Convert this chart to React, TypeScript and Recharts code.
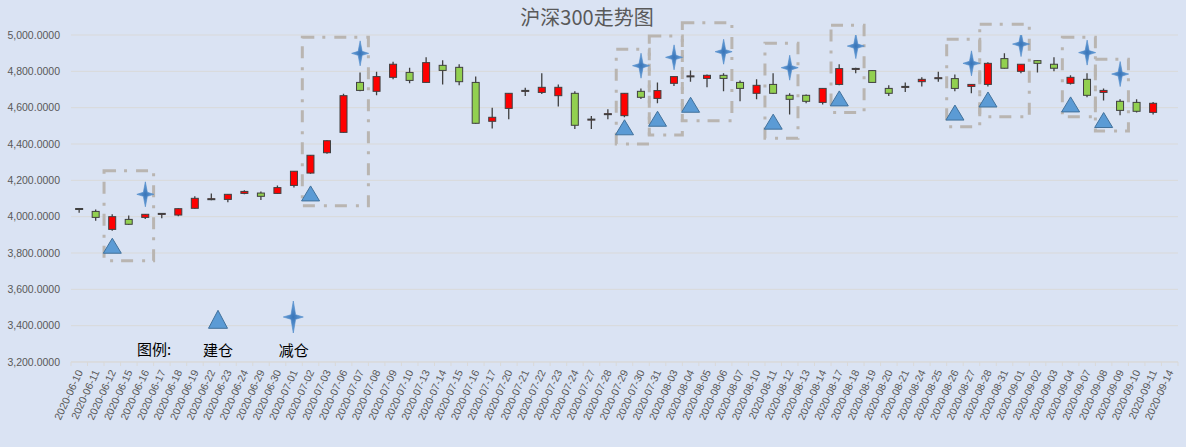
import { ComposedChart, Bar, Scatter, XAxis, YAxis, CartesianGrid, ReferenceArea } from "recharts";

// 沪深300 daily candles, 2020-06-10 .. 2020-09-14 (09-14 has no candle in the source)
const dates = [
  "2020-06-10", "2020-06-11", "2020-06-12", "2020-06-15", "2020-06-16", "2020-06-17", "2020-06-18",
  "2020-06-19", "2020-06-22", "2020-06-23", "2020-06-24", "2020-06-29", "2020-06-30", "2020-07-01",
  "2020-07-02", "2020-07-03", "2020-07-06", "2020-07-07", "2020-07-08", "2020-07-09", "2020-07-10",
  "2020-07-13", "2020-07-14", "2020-07-15", "2020-07-16", "2020-07-17", "2020-07-20", "2020-07-21",
  "2020-07-22", "2020-07-23", "2020-07-24", "2020-07-27", "2020-07-28", "2020-07-29", "2020-07-30",
  "2020-07-31", "2020-08-03", "2020-08-04", "2020-08-05", "2020-08-06", "2020-08-07", "2020-08-10",
  "2020-08-11", "2020-08-12", "2020-08-13", "2020-08-14", "2020-08-17", "2020-08-18", "2020-08-19",
  "2020-08-20", "2020-08-21", "2020-08-24", "2020-08-25", "2020-08-26", "2020-08-27", "2020-08-28",
  "2020-08-31", "2020-09-01", "2020-09-02", "2020-09-03", "2020-09-04", "2020-09-07", "2020-09-08",
  "2020-09-09", "2020-09-10", "2020-09-11", "2020-09-14",
];

const openValues = [
  4045, 4029, 3930, 3985, 3996, 4016, 4009, 4046, 4095, 4095, 4128, 4130, 4128, 4172,
  4240, 4352, 4464, 4739, 4690, 4767, 4794, 4739, 4833, 4822, 4739, 4525, 4596, 4692,
  4684, 4666, 4679, 4534, 4563, 4556, 4690, 4651, 4734, 4772, 4761, 4778, 4739, 4679,
  4728, 4668, 4668, 4629, 4728, 4813, 4804, 4706, 4714, 4743, 4762, 4760, 4717, 4728,
  4870, 4800, 4859, 4839, 4734, 4756, 4684, 4635, 4629, 4574, null,
];
const highValues = [
  4047, 4040, 4013, 4007, 4014, 4020, 4046, 4112, 4128, 4125, 4145, 4139, 4172, 4252,
  4340, 4420, 4677, 4794, 4798, 4853, 4820, 4877, 4861, 4839, 4771, 4600, 4680, 4710,
  4789, 4727, 4690, 4554, 4591, 4681, 4706, 4739, 4772, 4804, 4783, 4789, 4749, 4756,
  4789, 4679, 4672, 4707, 4839, 4820, 4806, 4723, 4739, 4767, 4798, 4783, 4729, 4850,
  4899, 4840, 4861, 4877, 4778, 4789, 4706, 4646, 4646, 4631, null,
];
const lowValues = [
  4022, 3978, 3923, 3956, 3987, 3991, 4002, 4044, 4090, 4079, 4123, 4092, 4126, 4161,
  4236, 4347, 4462, 4690, 4668, 4756, 4734, 4737, 4728, 4723, 4512, 4486, 4536, 4664,
  4675, 4607, 4483, 4483, 4536, 4547, 4648, 4624, 4719, 4743, 4712, 4690, 4635, 4646,
  4675, 4563, 4624, 4618, 4723, 4789, 4738, 4664, 4686, 4717, 4743, 4690, 4679, 4716,
  4816, 4789, 4794, 4800, 4728, 4657, 4640, 4558, 4574, 4563, null,
];
const closeValues = [
  4041, 3996, 4000, 3958, 4013, 4018, 4044, 4101, 4099, 4123, 4139, 4112, 4160, 4250,
  4338, 4418, 4666, 4695, 4771, 4839, 4750, 4848, 4805, 4743, 4514, 4547, 4679, 4695,
  4712, 4712, 4503, 4537, 4567, 4679, 4657, 4694, 4771, 4775, 4778, 4761, 4706, 4723,
  4679, 4646, 4635, 4706, 4815, 4816, 4739, 4679, 4717, 4756, 4765, 4706, 4728, 4844,
  4817, 4839, 4844, 4817, 4767, 4668, 4695, 4585, 4580, 4624, null,
];

// 建仓 (triangles) and 减仓 (stars)
const buyDates = [
  "2020-06-12", "2020-07-02", "2020-07-29", "2020-07-31", "2020-08-04", "2020-08-11",
  "2020-08-17", "2020-08-26", "2020-08-28", "2020-09-04", "2020-09-08",
];
const buyValues = [3840, 4128, 4492, 4539, 4616, 4523, 4651, 4573, 4645, 4618, 4532];
const sellDates = [
  "2020-06-16", "2020-07-07", "2020-07-30", "2020-08-03", "2020-08-06", "2020-08-12",
  "2020-08-18", "2020-08-27", "2020-09-01", "2020-09-07", "2020-09-09",
];
const sellValues = [4123, 4899, 4831, 4877, 4908, 4820, 4939, 4844, 4950, 4903, 4785];

// dashed boxes around each trade
const boxFrom = buyDates;
const boxTo = sellDates;
const boxTop = [4253, 4987, 4921, 4994, 5068, 4954, 5053, 4976, 5059, 4987, 4866];
const boxBottom = [3758, 4060, 4400, 4450, 4528, 4431, 4574, 4495, 4550, 4550, 4472];

const yTicks = [3200, 3400, 3600, 3800, 4000, 4200, 4400, 4600, 4800, 5000];

const UP = "#ff0000";
const DOWN = "#92d050";
const EDGE = "#404040";
const TEXT = "#595959";
const GRID = "#d9d9d9";
const HALF_BAND = (1186 - 71 - 8) / dates.length / 2;

const rows = dates.map((date, i) => {
  const b = buyDates.indexOf(date);
  const s = sellDates.indexOf(date);
  return {
    date,
    open: openValues[i],
    high: highValues[i],
    low: lowValues[i],
    close: closeValues[i],
    buy: b >= 0 ? buyValues[b] : null,
    sell: s >= 0 ? sellValues[s] : null,
  };
});

const Candle = (props: any) => {
  const { x, y, width, height, payload } = props;
  if (!payload || payload.open == null || y == null || isNaN(y)) return <g />;
  const { open, high, low, close } = payload;
  const top = Math.min(y, y + height);
  const h = Math.abs(height);
  const toY = (v: number) => (high === low ? top : top + ((high - v) / (high - low)) * h);
  const cx = x + width / 2;
  const bodyTop = toY(Math.max(open, close));
  const bodyBottom = toY(Math.min(open, close));
  const bw = 7;
  return (
    <g>
      <line x1={cx} x2={cx} y1={top} y2={top + h} stroke={EDGE} strokeWidth={1.3} />
      <rect
        x={cx - bw / 2}
        y={bodyTop}
        width={bw}
        height={Math.max(bodyBottom - bodyTop, 1)}
        fill={close >= open ? UP : DOWN}
        stroke={EDGE}
        strokeWidth={1}
      />
    </g>
  );
};

const trianglePath = (cx: number, cy: number, hw: number, hh: number) =>
  `M${cx},${cy - hh} L${cx + hw},${cy + hh} L${cx - hw},${cy + hh} Z`;

const starPath = (cx: number, cy: number, hw: number, hh: number, r: number) =>
  `M${cx},${cy - hh} L${cx + r},${cy - r} L${cx + hw},${cy} L${cx + r},${cy + r} ` +
  `L${cx},${cy + hh} L${cx - r},${cy + r} L${cx - hw},${cy} L${cx - r},${cy - r} Z`;

const BuyMark = (props: any) => {
  const { cx, cy, payload } = props;
  if (!payload || payload.buy == null || cy == null || isNaN(cy)) return <g />;
  return <path d={trianglePath(cx, cy, 9, 7.5)} fill="#5b9bd5" stroke="#41719c" strokeWidth={1} />;
};

const SellMark = (props: any) => {
  const { cx, cy, payload } = props;
  if (!payload || payload.sell == null || cy == null || isNaN(cy)) return <g />;
  return <path d={starPath(cx, cy, 8.5, 12.5, 2)} fill="url(#starFill)" stroke="#4a86c8" strokeWidth={0.6} />;
};

const DateTick = (props: any) => {
  const { x, y, payload, index } = props;
  const last = index === dates.length - 1;
  return (
    <g>
      <line x1={x - HALF_BAND} x2={x - HALF_BAND} y1={y} y2={y + 4} stroke={GRID} />
      {last && <line x1={x + HALF_BAND} x2={x + HALF_BAND} y1={y} y2={y + 4} stroke={GRID} />}
      <text
        transform={`translate(${x + 4},${y + 10}) rotate(-65)`}
        textAnchor="end"
        fontSize={10.5}
        fontFamily="Liberation Sans, Arial, sans-serif"
        fill={TEXT}
      >
        {payload.value}
      </text>
    </g>
  );
};

const fmt = (v: number) =>
  v.toLocaleString("en-US", { minimumFractionDigits: 4, maximumFractionDigits: 4 });

export default function App() {
  return (
    <div style={{ position: "absolute", left: 0, top: 0, width: 1186, height: 447, background: "#dae3f3" }}>
      <ComposedChart
        width={1186}
        height={447}
        data={rows}
        margin={{ top: 35, right: 8, bottom: 5, left: 8 }}
      >
        <CartesianGrid vertical={false} stroke={GRID} />
        <XAxis
          dataKey="date"
          interval={0}
          height={80}
          tickSize={0}
          tickMargin={0}
          tickLine={false}
          axisLine={{ stroke: GRID }}
          tick={<DateTick />}
        />
        <YAxis
          width={63}
          domain={[3200, 5000]}
          ticks={yTicks}
          allowDataOverflow
          axisLine={false}
          tickLine={false}
          tickSize={0}
          tickMargin={11}
          tickFormatter={fmt}
          tick={{ fontSize: 10.5, fill: TEXT, fontFamily: "Liberation Sans, Arial, sans-serif" }}
        />
        {boxFrom.map((from, i) => (
          <ReferenceArea
            key={from}
            x1={from}
            x2={boxTo[i]}
            y1={boxBottom[i]}
            y2={boxTop[i]}
            ifOverflow="visible"
            fill="none"
            fillOpacity={0}
            stroke="#b9b5b1"
            strokeWidth={3}
            strokeDasharray="12 8 3 9"
          />
        ))}
        <Bar
          dataKey={(d: any) => (d.open == null ? null : [d.low, d.high])}
          shape={<Candle />}
          isAnimationActive={false}
        />
        <Scatter dataKey="buy" shape={<BuyMark />} isAnimationActive={false} />
        <Scatter dataKey="sell" shape={<SellMark />} isAnimationActive={false} />
      </ComposedChart>
      <svg
        width={1186}
        height={447}
        style={{ position: "absolute", left: 0, top: 0, pointerEvents: "none" }}
      >
        <defs>
          <radialGradient id="starFill" cx="50%" cy="50%" r="50%">
            <stop offset="0%" stopColor="#3874b8" />
            <stop offset="100%" stopColor="#6fa6dc" />
          </radialGradient>
        </defs>
        <text
          x={587}
          y={24.5}
          textAnchor="middle"
          fontSize={20}
          fill={TEXT}
          fontFamily="Noto Sans CJK SC, sans-serif"
        >
          沪深300走势图
        </text>
        <g fontFamily="Noto Sans CJK SC, sans-serif" fontSize={15} fill="#000">
          <text x={154} y={355} textAnchor="middle">图例:</text>
          <path d={trianglePath(218, 319.3, 9.5, 9)} fill="#5b9bd5" stroke="#41719c" strokeWidth={1} />
          <text x={218} y={355.5} textAnchor="middle">建仓</text>
          <path d={starPath(293.3, 317, 10, 16, 2.3)} fill="url(#starFill)" stroke="#4a86c8" strokeWidth={0.6} />
          <text x={293.8} y={355.5} textAnchor="middle">减仓</text>
        </g>
      </svg>
    </div>
  );
}
